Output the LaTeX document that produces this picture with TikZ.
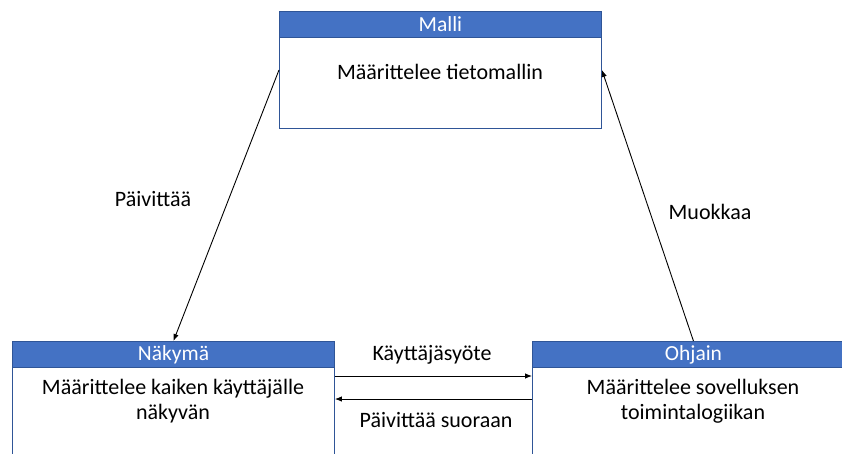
\documentclass[tikz,border=0pt]{standalone}
\usepackage{fontspec}
\setmainfont{Carlito}
\usetikzlibrary{arrows.meta}
\definecolor{hdrblue}{HTML}{4472C4}
\definecolor{edgeblue}{HTML}{2F5597}
\tikzset{
  boxbody/.style={draw=edgeblue, line width=0.9pt, fill=white, anchor=north west,
    minimum width=322pt, minimum height=117pt, inner sep=0pt},
  boxhead/.style={draw=edgeblue, line width=0.9pt, fill=hdrblue, anchor=north west,
    minimum width=322pt, minimum height=26pt, inner sep=0pt, text=white,
    font=\fontsize{21.5}{24}\selectfont},
  bodytext/.style={align=center, font=\fontsize{22}{25}\selectfont, inner sep=0pt},
  lbl/.style={font=\fontsize{22}{24}\selectfont, inner sep=0pt},
  conn/.style={line width=0.9pt, -{Latex[length=7pt,width=5.5pt]}}
}
\begin{document}
\begin{tikzpicture}[x=1pt,y=-1pt]
\useasboundingbox (0,0) rectangle (842,453);
\clip (0,0) rectangle (842,453);
% Malli
\node[boxbody] (malli) at (279,11) {};
\node[boxhead] (mallih) at (279,11) {Malli};
\node[bodytext] (mallit) at (440,72) {Määrittelee tietomallin};
% Näkymä
\node[boxbody] (nakyma) at (12,341) {};
\node[boxhead] (nakymah) at (12,341) {Näkymä};
\node[bodytext] (nakymat) at (173,401) {Määrittelee kaiken käyttäjälle\\näkyvän};
% Ohjain
\node[boxbody] (ohjain) at (532,341) {};
\node[boxhead] (ohjainh) at (532,341) {Ohjain};
\node[bodytext] (ohjaint) at (693,401) {Määrittelee sovelluksen\\toimintalogiikan};
% connectors
\draw[conn] (malli.west) -- (nakymah.north);
\draw[conn] (ohjainh.north) -- (malli.east);
\draw[conn] (nakyma.east |- 0,376) -- (ohjain.west |- 0,376);
\draw[conn] (ohjain.west |- 0,399) -- (nakyma.east |- 0,399);
% labels
\node[lbl] (lpaiv) at (153,199) {Päivittää};
\node[lbl] (lmuok) at (710,212) {Muokkaa};
\node[lbl] (lsyote) at (432,355) {Käyttäjäsyöte};
\node[lbl] (lsuor) at (436,420) {Päivittää suoraan};
\end{tikzpicture}
\end{document}
